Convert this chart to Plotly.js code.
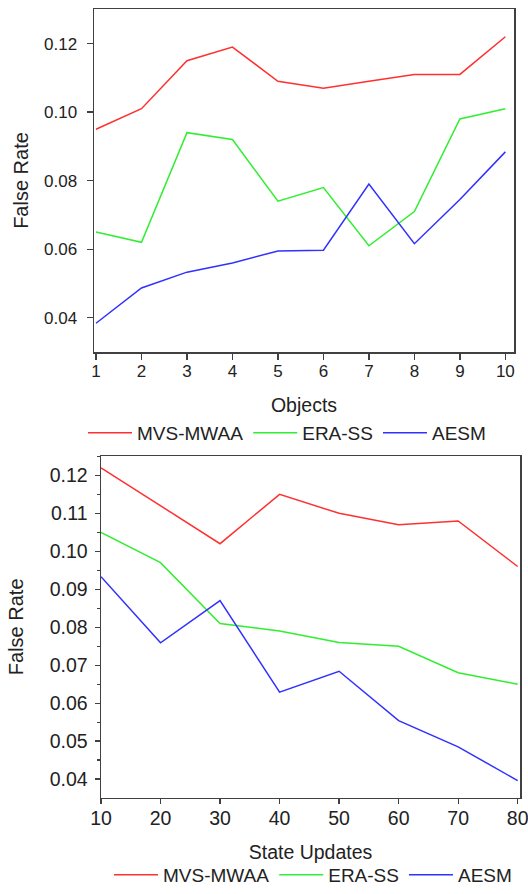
<!DOCTYPE html>
<html><head><meta charset="utf-8">
<script src="https://cdn.plot.ly/plotly-3.0.1.min.js"></script>
<style>html,body{margin:0;padding:0;background:#fff}#chart{width:528px;height:894px}</style>
</head><body><div id="chart"></div>
<script>
const seriesNames = ["MVS-MWAA", "ERA-SS", "AESM"];
const seriesColors = ["#ff3030", "#30ee30", "#3030ff"];

const objects = [1, 2, 3, 4, 5, 6, 7, 8, 9, 10];
const objMVS = [0.095, 0.101, 0.115, 0.119, 0.109, 0.107, 0.109, 0.111, 0.111, 0.122];
const objERA = [0.065, 0.062, 0.094, 0.092, 0.074, 0.078, 0.061, 0.071, 0.098, 0.101];
const objAESM = [0.0384, 0.0487, 0.0533, 0.056, 0.0595, 0.0597, 0.079, 0.0616, 0.0745, 0.0884];

const updates = [10, 20, 30, 40, 50, 60, 70, 80];
const updMVS = [0.122, 0.112, 0.102, 0.115, 0.110, 0.107, 0.108, 0.096];
const updERA = [0.105, 0.097, 0.081, 0.079, 0.076, 0.075, 0.068, 0.065];
const updAESM = [0.0933, 0.0759, 0.087, 0.0629, 0.0684, 0.0554, 0.0485, 0.0396];

const topYTicks = [0.04, 0.06, 0.08, 0.10, 0.12];
const topYTickText = ["0.04", "0.06", "0.08", "0.10", "0.12"];
const botYTicks = [0.04, 0.05, 0.06, 0.07, 0.08, 0.09, 0.10, 0.11, 0.12];
const botYTickText = ["0.04", "0.05", "0.06", "0.07", "0.08", "0.09", "0.10", "0.11", "0.12"];

const W = 528, H = 894;
const FONT = "Liberation Sans, Arial, sans-serif";
const AXC = "#404040";

const topSeries = [objMVS, objERA, objAESM];
const botSeries = [updMVS, updERA, updAESM];
const traces = [];
topSeries.forEach((ys, i) => traces.push({
  x: objects, y: ys, name: seriesNames[i], type: "scatter", mode: "lines",
  line: {color: seriesColors[i], width: 1.5}, xaxis: "x", yaxis: "y", legend: "legend"
}));
botSeries.forEach((ys, i) => traces.push({
  x: updates, y: ys, name: seriesNames[i], type: "scatter", mode: "lines",
  line: {color: seriesColors[i], width: 1.5}, xaxis: "x2", yaxis: "y2", legend: "legend2"
}));

function px(x) { return x / W; }
function py(y) { return (H - y) / H; }

const common = {showgrid: false, zeroline: false, showline: true, linecolor: AXC, linewidth: 1.5,
  mirror: true, ticks: "outside", tickcolor: AXC, tickwidth: 1.3, automargin: false,
  ticklabeloverflow: "allow"};

const layout = {
  width: W, height: H,
  margin: {l: 0, r: 0, t: 0, b: 0},
  paper_bgcolor: "#fff", plot_bgcolor: "#fff",
  font: {family: FONT, color: "#222"},
  xaxis: Object.assign({}, common, {
    domain: [px(94), px(514)], anchor: "y", range: [0.956, 10.19],
    tickvals: objects, ticklen: 6, tickfont: {size: 17}, ticklabelstandoff: -3,
    title: {text: "Objects", font: {size: 19.5}, standoff: 18}
  }),
  yaxis: Object.assign({}, common, {
    domain: [py(352), py(9)], anchor: "x", range: [0.030, 0.1301],
    tickvals: topYTicks, ticktext: topYTickText, ticklen: 6, tickfont: {size: 17}, ticklabelstandoff: 6,
    title: {text: "False Rate", font: {size: 20}, standoff: 10}
  }),
  xaxis2: Object.assign({}, common, {
    domain: [px(101), px(520)], anchor: "y2", range: [10, 80.39],
    tickvals: updates, ticklen: 5, tickfont: {size: 19.5}, ticklabelstandoff: -3,
    title: {text: "State Updates", font: {size: 19.5}, standoff: 18}
  }),
  yaxis2: Object.assign({}, common, {
    domain: [py(797.7), py(456)], anchor: "x2", range: [0.0351, 0.1251],
    tickvals: botYTicks, ticktext: botYTickText, ticklen: 5, tickfont: {size: 19.5}, ticklabelstandoff: 3,
    minor: {dtick: 0.005, tick0: 0, ticks: "outside", ticklen: 3, tickcolor: AXC},
    title: {text: "False Rate", font: {size: 20}, standoff: 20}
  }),
  legend: {orientation: "h", x: px(83), xanchor: "left", y: py(433), yanchor: "middle",
    font: {size: 19, family: FONT}, bgcolor: "rgba(0,0,0,0)", itemwidth: 44, tracegroupgap: 0},
  legend2: {orientation: "h", x: px(109), xanchor: "left", y: 0, yanchor: "bottom",
    font: {size: 19, family: FONT}, bgcolor: "rgba(0,0,0,0)", itemwidth: 44, tracegroupgap: 0},
  showlegend: true
};

Plotly.newPlot("chart", traces, layout, {staticPlot: true, displayModeBar: false});
</script></body></html>
